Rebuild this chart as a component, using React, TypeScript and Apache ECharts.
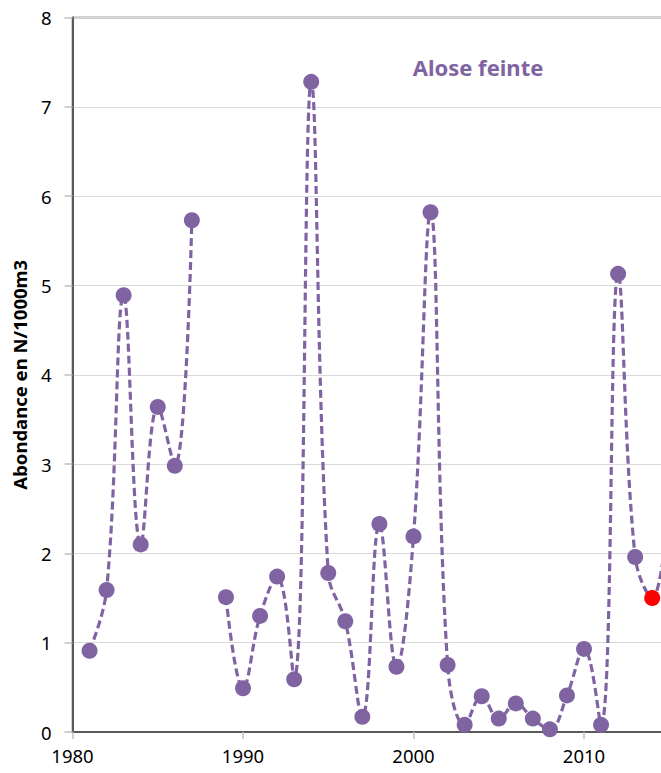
import React, { useEffect, useRef } from "react";
import * as echarts from "echarts";

const years = [1981, 1982, 1983, 1984, 1985, 1986, 1987, 1988, 1989, 1990, 1991, 1992, 1993, 1994, 1995, 1996, 1997, 1998, 1999, 2000, 2001, 2002, 2003, 2004, 2005, 2006, 2007, 2008, 2009, 2010, 2011, 2012, 2013, 2014, 2015];
const abundance: (number | null)[] = [0.91, 1.59, 4.89, 2.1, 3.64, 2.98, 5.73, null, 1.51, 0.49, 1.3, 1.74, 0.59, 7.28, 1.78, 1.24, 0.17, 2.33, 0.73, 2.19, 5.82, 0.75, 0.08, 0.4, 0.15, 0.32, 0.15, 0.03, 0.41, 0.93, 0.08, 5.13, 1.96, 1.5, 2.54];
const highlightYears = [2014, 2015];
const highlightColors = ["#FF0000", "#A6D96A"];
const yTicks = [0, 1, 2, 3, 4, 5, 6, 7, 8];
const xTicks = [1980, 1990, 2000, 2010, 2020];

const PURPLE = "#8064A2";
const FONT = "'Noto Sans', sans-serif";

export default function App() {
  const ref = useRef<HTMLDivElement>(null);
  useEffect(() => {
    if (!ref.current) return;
    const chart = echarts.init(ref.current, undefined, { renderer: "svg" });
    const data = years.map((y, i) => {
      const v = abundance[i];
      const hi = highlightYears.indexOf(y);
      if (v === null) return [y, "-"];
      if (hi >= 0) return { value: [y, v], itemStyle: { color: highlightColors[hi] } };
      return [y, v];
    });
    chart.setOption({
      animation: false,
      backgroundColor: "#ffffff",
      grid: {
        left: 72.5,
        right: 45.5,
        top: 17.5,
        bottom: 41,
        show: true,
        borderColor: "#404040",
        borderWidth: 1.5,
        backgroundColor: "transparent",
      },
      graphic: [
        {
          type: "text",
          x: 478,
          y: 67,
          style: {
            text: "Alose feinte",
            fill: PURPLE,
            font: `bold 22px ${FONT}`,
            textAlign: "center",
            textVerticalAlign: "middle",
          },
        },
      ],
      xAxis: {
        type: "value",
        min: xTicks[0],
        max: xTicks[xTicks.length - 1],
        interval: 10,
        axisLine: { show: true, lineStyle: { color: "#595959", width: 2 } },
        axisTick: { show: true, length: 7, lineStyle: { color: "#bfbfbf", width: 1.5 } },
        axisLabel: {
          color: "#000",
          fontSize: 18.5,
          fontFamily: FONT,
          margin: 14,
          showMaxLabel: false,
          formatter: (v: number) => (v <= 2010 ? String(v) : ""),
        },
        splitLine: { show: false },
      },
      yAxis: {
        type: "value",
        min: yTicks[0],
        max: yTicks[yTicks.length - 1],
        interval: 1,
        name: "Abondance en N/1000m3",
        nameLocation: "middle",
        nameGap: 44,
        nameTextStyle: { color: "#000", fontSize: 18.5, fontWeight: "bold", fontFamily: FONT },
        axisLine: { show: true, lineStyle: { color: "#595959", width: 2 } },
        axisTick: { show: true, length: 8, lineStyle: { color: "#bfbfbf", width: 1.5 } },
        axisLabel: { color: "#000", fontSize: 18.5, fontFamily: FONT, margin: 21 },
        splitLine: { show: true, lineStyle: { color: "#d9d9d9", width: 1 } },
      },
      series: [
        {
          type: "line",
          data,
          smooth: 0.4,
          connectNulls: false,
          symbol: "circle",
          symbolSize: 16,
          itemStyle: { color: PURPLE },
          lineStyle: { color: PURPLE, width: 3.2, type: [8, 4] },
        },
      ],
    });
    return () => chart.dispose();
  }, []);
  return (
    <div style={{ position: "fixed", left: 0, top: 0, width: 661, height: 773, overflow: "hidden", background: "#fff" }}>
      <div ref={ref} style={{ width: 800, height: 773 }} />
    </div>
  );
}
